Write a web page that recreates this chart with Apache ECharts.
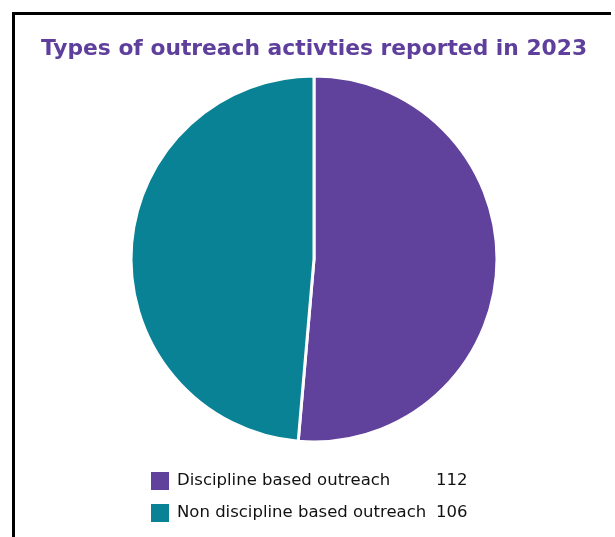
<!DOCTYPE html>
<html>
<head>
<meta charset="utf-8">
<script src="https://cdn.jsdelivr.net/npm/echarts@6/dist/echarts.min.js"></script>
<style>
  html, body { margin: 0; padding: 0; background: #fff; }
  #chart { width: 615px; height: 537px; }
</style>
</head>
<body>
<div id="chart"></div>
<script>
// Outreach activity counts for 2023
const categories = ['Discipline based outreach', 'Non discipline based outreach'];
const values = [112, 106];
const colors = ['#60419b', '#0a8296'];

const chart = echarts.init(document.getElementById('chart'), null, { renderer: 'canvas' });

const pieData = categories.map((name, i) => ({
  name: name,
  value: values[i],
  itemStyle: { color: colors[i] }
}));

chart.setOption({
  animation: false,
  backgroundColor: '#ffffff',
  title: {
    text: 'Types of outreach activties reported in 2023',
    left: 309,
    textAlign: 'center',
    top: 33,
    textStyle: {
      fontFamily: 'DejaVu Sans',
      fontWeight: 'bold',
      fontSize: 21.8,
      color: '#5e3f9c'
    }
  },
  legend: {
    orient: 'vertical',
    left: 144,
    top: 465,
    itemWidth: 20,
    itemHeight: 20,
    itemGap: 10,
    icon: 'rect',
    data: categories,
    formatter: function (name) {
      const v = values[categories.indexOf(name)];
      return '{n|' + name + '}{v|' + v + '}';
    },
    textStyle: {
      padding: [0, 0, 0, 2],
      rich: {
        n: { fontFamily: 'DejaVu Sans', fontSize: 16.5, color: '#111', width: 259 },
        v: { fontFamily: 'DejaVu Sans', fontSize: 16.5, color: '#111' }
      }
    }
  },
  graphic: [{
    type: 'polyline',
    shape: { points: [[13.5, 545], [13.5, 13.5], [611, 13.5]] },
    style: { stroke: '#000', lineWidth: 3, fill: null }
  }],
  series: [{
    type: 'pie',
    center: [314, 259],
    radius: [0, 183],
    startAngle: 90,
    clockwise: true,
    label: { show: false },
    labelLine: { show: false },
    itemStyle: { borderColor: '#ffffff', borderWidth: 3 },
    data: pieData
  }]
});
</script>
</body>
</html>
